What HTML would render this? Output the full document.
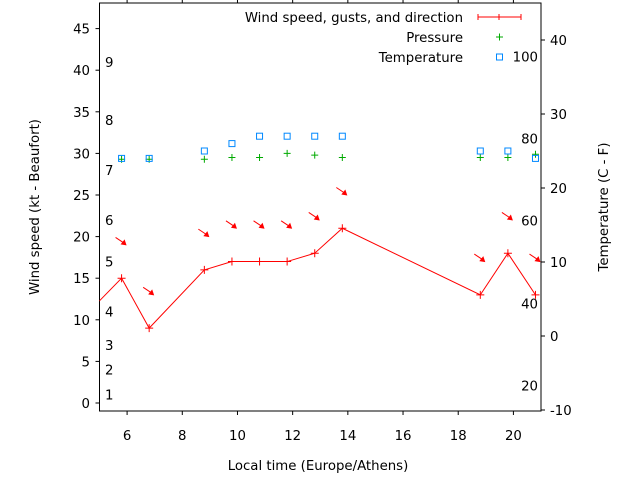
<!DOCTYPE html>
<html><head><meta charset="utf-8"><style>
body{margin:0;background:#fff}
svg{display:block;font-family:"DejaVu Sans","Liberation Sans",sans-serif;font-size:13.3px}
</style></head><body>
<svg width="640" height="480" id="c">
<g id="g"></g>
</svg>
<script>
const hours=[5.8,6.8,8.8,9.8,10.8,11.8,12.8,13.8,18.8,19.8,20.8];
const wind=[15,9,16,17,17,17,18,21,13,18,13];
const windPrev=[4.8,11.6];
const temperature=[24,24,25,26,27,27,27,27,25,25,24];
const pressure=[29.3,29.3,29.3,29.5,29.5,30,29.8,29.5,29.5,29.5,29.9];
const xTicks=[6,8,10,12,14,16,18,20];
const yTicks=[0,5,10,15,20,25,30,35,40,45];
const y2Ticks=[-10,0,10,20,30,40];
const beaufortLabels=["1","2","3","4","5","6","7","8","9"];
const beaufortPos=[1,4,7,11,17,22,28,34,41];
const fLabels=["20","40","60","80","100"];
const fPos=[-6.7,4.4,15.6,26.7,37.8];

const L=99.5,R=541,T=3,B=411;
const xs=v=>L+(v-5)*(R-L)/16;
const ys=v=>403-v*8.32;
const ys2=v=>336-v*7.4;
const g=document.getElementById('g');
const NS='http://www.w3.org/2000/svg';
function mk(tag,at,name){const e=document.createElementNS(NS,tag);for(const k in at)e.setAttribute(k,at[k]);


g.appendChild(e);return e;}
function txt(x,y,s,anchor,name,extra){const e=mk('text',Object.assign({x:x,y:y,'text-anchor':anchor,fill:'#000'},extra||{}),name);e.textContent=s;return e;}

mk('rect',{x:L,y:T,width:R-L,height:B-T,fill:'none',stroke:'#000','stroke-width':1},'plot-frame');
xTicks.forEach(t=>{const x=xs(t);
 mk('line',{x1:x,x2:x,y1:B,y2:B+4,stroke:'#000'},'x-tick');
 mk('line',{x1:x,x2:x,y1:T,y2:T-4,stroke:'#000'},'x-tick-top');
 txt(x,440,String(t),'middle','x-tick-label');});
yTicks.forEach(t=>{const y=ys(t);
 mk('line',{x1:L-4,x2:L,y1:y,y2:y,stroke:'#000'},'y-tick');
 txt(90,y+5,String(t),'end','y-tick-label');});
y2Ticks.forEach(t=>{const y=ys2(t);
 mk('line',{x1:R,x2:R+4,y1:y,y2:y,stroke:'#000'},'y2-tick');
 txt(550,y+5,String(t),'start','y2-tick-label');});
beaufortLabels.forEach((s,i)=>txt(105,ys(beaufortPos[i])+5,s,'start','beaufort-label'));
fLabels.forEach((s,i)=>txt(538,ys2(fPos[i])+5,s,'end','fahrenheit-label'));

txt(318,470,'Local time (Europe/Athens)','middle','x-axis-title');
txt(0,0,'Wind speed (kt - Beaufort)','middle','y-axis-title',{transform:'translate(39,207) rotate(-90)'});
txt(0,0,'Temperature (C - F)','middle','y2-axis-title',{transform:'translate(608,207) rotate(-90)'});

mk('clipPath',{id:'clp'},'clip').innerHTML='<rect x="'+L+'" y="'+T+'" width="'+(R-L)+'" height="'+(B-T)+'"/>';
let pts=[[xs(windPrev[0]),ys(windPrev[1])]].concat(hours.map((h,i)=>[xs(h),ys(wind[i])]));
mk('polyline',{points:pts.map(p=>p.join(',')).join(' '),fill:'none',stroke:'#f00','stroke-width':1,'clip-path':'url(#clp)'},'wind-line');
hours.forEach((h,i)=>{const x=xs(h),y=ys(wind[i]);
 mk('path',{d:`M${x-4},${y}H${x+4}M${x},${y-4}V${y+4}`,stroke:'#f00'},'wind-point');
 const ay=ys(wind[i]+4.3);
 mk('line',{x1:x-6,y1:ay-5,x2:x+3,y2:ay+1,stroke:'#f00'},'wind-arrow');
 mk('path',{d:`M${x+5},${ay+3}L${x-1},${ay+2}L${x+3},${ay-3}Z`,fill:'#f00'},'wind-arrow-head');
 const py=ys(pressure[i]);
 mk('path',{d:`M${x-3.5},${py}H${x+3.5}M${x},${py-3.5}V${py+3.5}`,stroke:'#0a0'},'pressure-point');
 const ty=ys2(temperature[i]);
 mk('rect',{x:x-3,y:ty-3,width:6,height:6,fill:'none',stroke:'#08f'},'temperature-point');
});
txt(463,22,'Wind speed, gusts, and direction','end','legend-wind-label');
mk('path',{d:'M478,17H521M478,14V20M521,14V20M499,14V20',stroke:'#f00'},'legend-wind-sample');
txt(463,42,'Pressure','end','legend-pressure-label');
mk('path',{d:'M496,37H503M499.5,33.5V40.5',stroke:'#0a0'},'legend-pressure-sample');
txt(463,62,'Temperature','end','legend-temperature-label');
mk('rect',{x:496.5,y:54,width:6,height:6,fill:'none',stroke:'#08f'},'legend-temperature-sample');
</script>
</body></html>
